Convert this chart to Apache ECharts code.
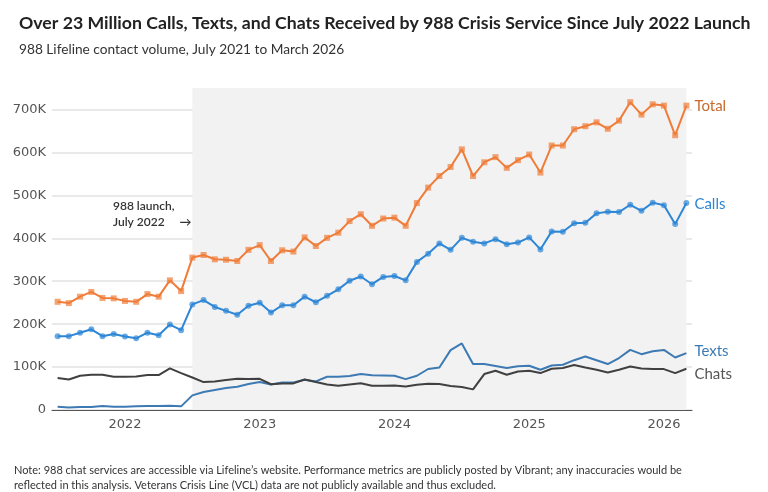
<!DOCTYPE html>
<html>
<head>
<meta charset="utf-8">
<script src="https://cdn.jsdelivr.net/npm/echarts@6/dist/echarts.min.js"></script>
<style>
  html, body { margin: 0; padding: 0; background: #fff; }
  #chart { width: 768px; height: 492px; }
</style>
</head>
<body>
<div id="chart"></div>
<script>
// months, July 2021 .. March 2026
var months = []
for (var y = 2021; y <= 2026; y++) {
  for (var m = 1; m <= 12; m++) {
    if (y === 2021 && m < 7) continue
    if (y === 2026 && m > 3) break
    months.push(y + '-' + (m < 10 ? '0' + m : m))
  }
}

// contacts, thousands
var total = [252, 249, 264, 275, 261, 260, 254, 252, 270, 264,
  302, 277, 355, 361, 351, 350, 347, 373, 384, 347,
  372, 369, 402, 382, 401, 413, 440, 456, 429, 446,
  448, 429, 482, 518, 545, 566, 607, 545, 577, 589,
  564, 582, 595, 553, 616, 616, 654, 661, 670, 655,
  674, 717, 688, 712, 709, 640, 709]
var calls = [172, 172, 180, 188, 172, 177, 171, 167, 180, 174,
  199, 186, 246, 256, 240, 231, 222, 243, 250, 227,
  244, 244, 264, 251, 266, 281, 301, 311, 293, 310,
  312, 302, 345, 364, 388, 373, 401, 392, 388, 398,
  386, 390, 402, 374, 416, 415, 435, 436, 458, 462,
  461, 478, 464, 483, 477, 433, 482]
var texts = [7.7, 6, 7, 7, 9.3, 7.7, 7.7, 8.5, 9.3, 9.3,
  10, 8.5, 34, 42, 46.5, 51, 54, 60.5, 65, 59.5,
  64, 64, 70.5, 66.5, 77.4, 77.4, 79, 83.7, 81, 80.5,
  79.8, 72, 79.8, 95.5, 99, 139.5, 155, 107, 107, 102.5,
  98, 102, 103, 93.7, 103.7, 105.3, 116, 124.7, 116, 107,
  121, 140, 130, 137, 140, 122.3, 132.5]
var chats = [74.4, 71, 79.8, 82, 82, 77.4, 77.4, 77.8, 81.4, 81.4,
  96.8, 86, 75.8, 65, 66.5, 69.8, 72.8, 72, 72.5, 60,
  62, 62, 71, 65, 59.5, 56.5, 59.5, 62.5, 56.5, 56.5,
  57, 55, 58.8, 61, 60.5, 55.8, 53.5, 48, 83.7, 91.4,
  82, 89.8, 91.4, 86, 96, 97.7, 104.6, 99, 93.7, 87.4,
  93.7, 101.4, 96.8, 95.3, 95.3, 86, 96]

var launchMonth = '2022-07'
var yTicks = { min: 0, max: 750, step: 100 }

var font = 'Lato, "Noto Sans", sans-serif'

var chart = echarts.init(document.getElementById('chart'))

function line(name, data, color, symbol, labelColor, labelOffset) {
  return {
    name: name,
    type: 'line',
    data: data,
    symbol: symbol || 'none',
    symbolSize: 6,
    showSymbol: !!symbol,
    itemStyle: { color: color, opacity: 0.7 },
    lineStyle: { color: color, width: 2 },
    emphasis: { disabled: true },
    endLabel: {
      show: true,
      formatter: name,
      color: labelColor,
      fontFamily: font,
      fontSize: 15,
      distance: 8,
      offset: labelOffset || [0, 0]
    }
  }
}

var series = [
  line('Total', total, '#ef7d39', 'rect', '#c96a30', [0, 1]),
  line('Calls', calls, '#2d86d6', 'circle', '#2d86d6', [0, 1]),
  line('Texts', texts, '#3d7ab3', null, '#3d7ab3', [0, -2]),
  line('Chats', chats, '#404040', null, '#555555', [0, 5])
]
// shaded post-launch period
series[0].markArea = {
  silent: true,
  itemStyle: { color: '#f2f2f2' },
  data: [[{ xAxis: launchMonth, yAxis: yTicks.max }, { xAxis: months[months.length - 1], yAxis: yTicks.min }]]
}

var option = {
  backgroundColor: '#ffffff',
  animation: false,
  title: [{
    text: 'Over 23 Million Calls, Texts, and Chats Received by 988 Crisis Service Since July 2022 Launch',
    left: 14, top: 9,
    textStyle: { fontFamily: font, fontSize: 17.7, fontWeight: 'bold', color: '#222' }
  }, {
    text: '988 Lifeline contact volume, July 2021 to March 2026',
    left: 14, top: 38,
    textStyle: { fontFamily: font, fontSize: 13.7, fontWeight: 'normal', color: '#333' }
  }],
  grid: { left: 52, right: 76, top: 88, bottom: 82 },
  xAxis: {
    type: 'category',
    data: months,
    boundaryGap: true,
    axisLine: { lineStyle: { color: '#555', width: 1 } },
    axisTick: { show: false },
    axisLabel: {
      interval: function (i, v) { return v.slice(5) === '01' },
      formatter: function (v) { return v.slice(0, 4) },
      color: '#555', fontFamily: '"DejaVu Sans", sans-serif', fontSize: 13, margin: 8
    },
    splitLine: { show: false }
  },
  yAxis: {
    type: 'value',
    min: yTicks.min, max: yTicks.max, interval: yTicks.step,
    axisLine: { show: false },
    axisTick: { show: false },
    axisLabel: {
      showMaxLabel: false,
      formatter: function (v) { return v === 0 ? '0' : v + 'K' },
      color: '#555', fontFamily: '"DejaVu Sans", sans-serif', fontSize: 13, margin: 6
    },
    splitLine: { show: true, showMaxLine: false, lineStyle: { color: '#e2e2e2', width: 1.5 } }
  },
  graphic: [{
    type: 'text', left: 113, top: 198,
    style: {
      text: '988 launch,\nJuly 2022     \u2192',
      fill: '#333', font: '600 12px ' + font, lineHeight: 16
    }
  }, {
    type: 'text', left: 14, top: 463,
    style: {
      text: 'Note: 988 chat services are accessible via Lifeline\u2019s website. Performance metrics are publicly posted by Vibrant; any inaccuracies would be\nreflected in this analysis. Veterans Crisis Line (VCL) data are not publicly available and thus excluded.',
      fill: '#333', font: '11px ' + font, lineHeight: 15
    }
  }],
  series: series
}
chart.setOption(option)
</script>
</body>
</html>
